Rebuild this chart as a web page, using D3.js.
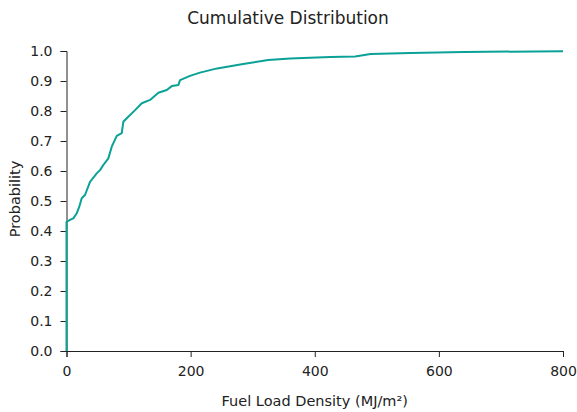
<!DOCTYPE html>
<html><head><meta charset="utf-8">
<script src="https://cdn.jsdelivr.net/npm/d3@7"></script>
<style>body{margin:0;background:#fff;} text{font-family:"DejaVu Sans",sans-serif;}</style>
</head><body><svg id="c" width="577" height="412"></svg>
<script>
const fuelLoad = [0,0,5.6,11,16.5,20.6,24.5,29.8,37.9,48.7,54,59.4,67.4,72.9,81,89,91.6,97.1,110.5,121.3,134.7,148,161.6,169.7,180.3,183,199,215,242.7,284.7,325,360.5,425,465,490,554,640,800];
const probability = [0,0.43,0.437,0.442,0.459,0.481,0.509,0.52,0.564,0.592,0.603,0.62,0.642,0.681,0.717,0.726,0.764,0.776,0.803,0.826,0.837,0.861,0.87,0.883,0.887,0.903,0.917,0.928,0.942,0.957,0.97,0.975,0.98,0.982,0.99,0.993,0.997,0.999];
const xTicks = [0,200,400,600,800];
const yTicks = [0,0.1,0.2,0.3,0.4,0.5,0.6,0.7,0.8,0.9,1.0];

const svg = d3.select("#c");
const m = {l:66.5, r:563, t:51, b:351};
const x = d3.scaleLinear().domain([0,800]).range([m.l,m.r]);
const y = d3.scaleLinear().domain([0,1]).range([m.b,m.t]);

const xa = svg.append("g").attr("transform",`translate(0,${m.b})`)
  .call(d3.axisBottom(x).tickValues(xTicks).tickSize(6).tickPadding(9).tickSizeOuter(6));
const ya = svg.append("g").attr("transform",`translate(${m.l},0)`)
  .call(d3.axisLeft(y).tickValues(yTicks).tickFormat(d3.format(".1f")).tickSize(6).tickPadding(8).tickSizeOuter(6));
[xa,ya].forEach(a=>{
  a.selectAll("path,line").attr("stroke","#222").attr("stroke-width",1);
  a.selectAll("text").attr("fill","#222").style("font-size","14px").style("font-family","DejaVu Sans");
});

const pts = fuelLoad.map((v,i)=>[v,probability[i]]);
svg.append("path").datum(pts)
  .attr("fill","none").attr("stroke","#0aa197").attr("stroke-width",2)
  .attr("stroke-linejoin","round")
  .attr("d", d3.line().x(d=>x(d[0])).y(d=>y(d[1])));

svg.append("text").attr("x",288).attr("y",24).attr("text-anchor","middle")
  .style("font-size","17px").attr("fill","#222").text("Cumulative Distribution");
svg.append("text").attr("x",(m.l+m.r)/2).attr("y",406).attr("text-anchor","middle")
  .style("font-size","14.5px").attr("fill","#222").text("Fuel Load Density (MJ/m²)");
svg.append("text").attr("transform",`translate(20,${(m.t+m.b)/2 - 2}) rotate(-90)`).attr("text-anchor","middle")
  .style("font-size","14.5px").attr("fill","#222").text("Probability");
</script></body></html>
